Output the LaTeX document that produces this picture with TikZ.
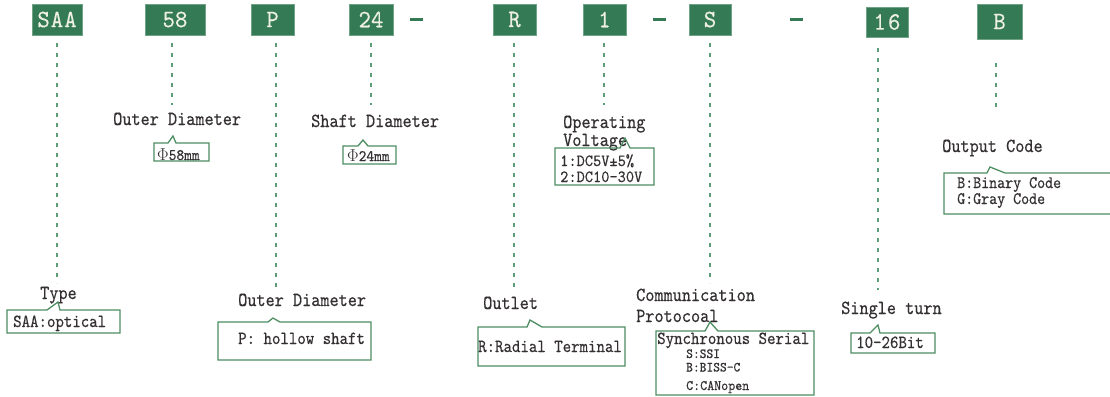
\documentclass[tikz,border=0pt]{standalone}
\usepackage{fontspec}
\newfontfamily\lab{lmmono10-regular.otf}[FakeStretch=0.87, FakeBold=0.4]
\newfontfamily\labs{lmmono10-regular.otf}[FakeStretch=0.92, FakeBold=0.3]
\newfontfamily\codef{lmmono10-regular.otf}[FakeStretch=0.95, FakeBold=0.3]
\definecolor{gbox}{RGB}{52,122,84}
\definecolor{gline}{RGB}{92,158,120}
\definecolor{cline}{RGB}{78,142,99}
\definecolor{txt}{RGB}{52,48,50}
\definecolor{btxt}{RGB}{238,240,226}
\tikzset{
  x=1pt, y=-1pt,
  codebox/.style={fill=gbox, draw=gbox!70!white, line width=0.6pt, inner sep=0pt, text=btxt,
    font=\codef\fontsize{25}{26}\selectfont, minimum height=31pt},
  dashbar/.style={draw=gbox, line width=3pt},
  dotl/.style={draw=gline, line width=2pt, dash pattern=on 4pt off 6pt},
  lbl/.style={inner sep=0pt, text=txt, anchor=base west, font=\lab\fontsize{20}{22}\selectfont},
  ctext/.style={inner sep=0pt, text=txt, anchor=base west, font=\lab\fontsize{18.5}{20}\selectfont},
  stext/.style={inner sep=0pt, text=txt, anchor=base west, font=\labs\fontsize{17}{18}\selectfont},
  cbox/.style={draw=cline, line width=1.3pt, line join=miter},
}
\newcommand\callout[8]{%
  \draw[cbox] (#5,#2) -- (#6,#7) -- (#8,#2) -- (#3,#2) -- (#3,#4) -- (#1,#4) -- (#1,#2) -- cycle;}
\begin{document}
\begin{tikzpicture}
\useasboundingbox (0,0) rectangle (1110,396);
\fill[white] (0,0) rectangle (1110,396);

% top code boxes
\node[codebox, minimum width=50pt] (saa) at (57,19.5) {S\kern1ptA\kern1ptA};
\node[codebox, minimum width=60pt] (n58) at (175,19.5) {58};
\node[codebox, minimum width=43pt] (p) at (272.5,19.5) {P};
\node[codebox, minimum width=44pt] (n24) at (371,19.5) {24};
\node[codebox, minimum width=43pt] (r) at (514.5,19.5) {R};
\node[codebox, minimum width=43pt] (n1) at (604.5,19.5) {1};
\node[codebox, minimum width=42pt] (s) at (710,19.5) {S};
\node[codebox, minimum width=42pt, minimum height=30pt] (n16) at (887,22) {1\kern2pt6};
\node[codebox, minimum width=45pt, minimum height=35pt] (b) at (999.5,21.5) {B};

% separators
\draw[dashbar] (410,20) -- (423,20);
\draw[dashbar] (653,20) -- (666,20);
\draw[dashbar] (790,20) -- (803,20);

% labels
\node[lbl] (type) at (40,299) {Type};
\node[lbl] (od1) at (113,125) {Outer Diameter};
\node[lbl] (sd) at (311,127) {Shaft Diameter};
\node[lbl] (op1) at (563,128) {Operating};
\node[lbl] (op2) at (563,146) {Voltage};
\node[lbl] (oc) at (942,152) {Output Code};
\node[lbl] (od2) at (238,306) {Outer Diameter};
\node[lbl] (outl) at (483,309) {Outlet};
\node[lbl] (cp1) at (636,301) {Communication};
\node[lbl] (cp2) at (636,322) {Protocoal};
\node[lbl] (st) at (841,314) {Single turn};

% dotted leaders
\coordinate (e1) at (57,283);
\coordinate (e2) at (172,105);
\coordinate (e3) at (276,287);
\coordinate (e4) at (371,105);
\coordinate (e5) at (514,288);
\coordinate (e6) at (604,105);
\coordinate (e7) at (710,283);
\coordinate (e8) at (878,290);
\coordinate (e9) at (996,112);
\draw[dotl] (57,43) -- (e1);
\draw[dotl] (172,43) -- (e2);
\draw[dotl] (276,43) -- (e3);
\draw[dotl] (371,43) -- (e4);
\draw[dotl] (514,43) -- (e5);
\draw[dotl] (604,43) -- (e6);
\draw[dotl] (710,43) -- (e7);
\draw[dotl] (878,48) -- (e8);
\draw[dotl] (996,63) -- (e9);

% callout boxes
\callout{7}{310}{120}{333}{47}{58}{302}{60}
\node[ctext] (t1) at (13,327) {SAA:optical};

\callout{154}{143}{209}{161}{168}{173}{136}{176}
\node[stext, font=\labs\fontsize{16}{17}\selectfont] (t2) at (157,160) {$\Phi$58mm};

\callout{343}{146}{396}{164}{358}{363}{140}{368}
\node[stext, font=\labs\fontsize{16}{17}\selectfont] (t3) at (347,161) {$\Phi$24mm};

\callout{555}{148}{654}{185}{620}{625}{138}{630}
\node[stext] (t4a) at (560,166) {1:DC5V±5\%};
\node[stext] (t4b) at (560,182) {2:DC10-30V};

\callout{944}{173}{1113}{214}{987}{990}{167}{1005}
\node[ctext, font=\lab\fontsize{17.5}{18}\selectfont] (t5a) at (957,188) {B:Binary Code};
\node[ctext, font=\lab\fontsize{17.5}{18}\selectfont] (t5b) at (957,204) {G:Gray Code};

\callout{218}{322}{371}{360}{268}{273}{318}{280}
\node[ctext] (t6) at (238,344) {P: hollow shaft};

\callout{478}{327}{625}{366}{527}{530}{320}{542}
\node[ctext] (t7) at (478,352) {R:Radial Terminal};

\callout{656}{331}{814}{395}{705}{710}{322}{718}
\node[ctext] (t8) at (657,344) {Synchronous Serial};
\node[stext, font=\labs\fontsize{14}{15}\selectfont] (t8a) at (686,358) {S:SSI};
\node[stext, font=\labs\fontsize{14}{15}\selectfont] (t8b) at (686,371.5) {B:BISS-C};
\node[stext, font=\labs\fontsize{14.5}{15}\selectfont] (t8c) at (686,390) {C:CANopen};

\callout{851}{333}{935}{353}{870}{878}{325}{880}
\node[ctext] (t9) at (856,348) {10-26Bit};
\end{tikzpicture}
\end{document}
